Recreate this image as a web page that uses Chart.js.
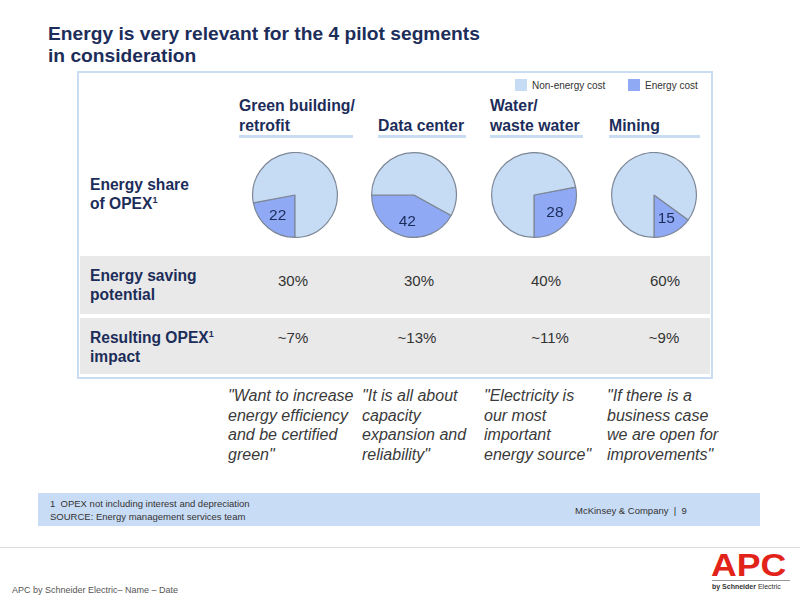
<!DOCTYPE html>
<html>
<head>
<meta charset="utf-8">
<script src="https://cdn.jsdelivr.net/npm/chart.js@4.4.1/dist/chart.umd.min.js"></script>
<style>
  html, body { margin: 0; padding: 0; background: #fff; }
  body { width: 800px; height: 600px; position: relative; overflow: hidden; font-family: "Liberation Sans", Arial, sans-serif; }
  .abs { position: absolute; }
  .title { left: 48px; top: 23px; font-size: 19.2px; font-weight: bold; color: #1c2d5a; line-height: 22px; }
  .box { left: 77px; top: 71px; width: 632px; height: 304px; border: 2px solid #cadcf2; }
  .legend { font-size: 10px; color: #333; display: flex; align-items: center; }
  .legend i { display: inline-block; width: 12px; height: 12px; margin-right: 5px; }
  .head { font-size: 15.8px; font-weight: bold; color: #1c2d5a; line-height: 20px; }
  .uline { height: 3px; background: #cadcf2; }
  .rowlab { left: 90px; font-size: 15.6px; font-weight: bold; color: #1c2d5a; line-height: 19px; }
  .rowlab sup { font-size: 9px; line-height: 0; vertical-align: 0; position: relative; top: -6px; }
  .band { left: 80px; width: 630px; background: #e9e9e9; }
  .val { font-size: 15px; color: #333; transform: translateX(-50%); white-space: nowrap; }
  .quote { font-size: 16px; font-style: italic; color: #3a3a3a; line-height: 19.5px; white-space: pre; }
  .pie { width: 88px; height: 86px; }
  .foot { left: 38px; top: 493px; width: 722px; height: 33px; background: #c9dcf5; }
  .small { font-size: 9.5px; color: #333; line-height: 13px; }
</style>
</head>
<body>

<div class="abs title">Energy is very relevant for the 4 pilot segments<br>in consideration</div>
<div class="abs box"></div>

<div class="abs legend" style="left:515px; top:79px;"><i style="background:#c6dcf5"></i>Non-energy cost</div>
<div class="abs legend" style="left:628px; top:79px;"><i style="background:#8fa9f5"></i>Energy cost</div>

<div id="heads"></div>

<div class="abs rowlab" style="top:175px;">Energy share<br>of OPEX<sup>1</sup></div>

<div class="abs band" style="top:256px; height:58px;"></div>
<div class="abs band" style="top:318px; height:56px;"></div>
<div class="abs rowlab" style="top:266px;">Energy saving<br>potential</div>
<div class="abs rowlab" style="top:328px;">Resulting OPEX<sup>1</sup><br>impact</div>

<div id="pies"></div>
<div id="cells"></div>

<div class="abs foot"></div>
<div class="abs small" style="left:50px; top:497px;">1&nbsp; OPEX not including interest and depreciation<br>SOURCE: Energy management services team</div>
<div class="abs small" style="left:575px; top:504px;">McKinsey &amp; Company&nbsp; |&nbsp; 9</div>

<div class="abs" style="left:0; top:547px; width:800px; height:1px; background:#dcdcdc;"></div>
<div class="abs" style="left:12px; top:585px; font-size:9px; color:#555;">APC by Schneider Electric– Name – Date</div>
<div class="abs" style="left:711px; top:548px; font-size:31px; font-weight:900; color:#e2231a; transform-origin:0 0; transform:scaleX(1.15);">APC</div>
<div class="abs" style="left:712px; top:580px; width:78px; height:1px; background:#999;"></div>
<div class="abs" style="left:712px; top:583px; font-size:7px; color:#333;"><b>by Schneider</b> Electric</div>

<script>
// Segments and values.
const segments = ['Green building/\nretrofit', 'Data center', 'Water/\nwaste water', 'Mining'];
const energyShare = [22, 42, 28, 15];
const savingPotential = ['30%', '30%', '40%', '60%'];
const opexImpact = ['~7%', '~13%', '~11%', '~9%'];
const quotes = [
  '"Want to increase\nenergy efficiency\nand be certified\ngreen"',
  '"It is all about\ncapacity\nexpansion and\nreliability"',
  '"Electricity is\nour most\nimportant\nenergy source"',
  '"If there is a\nbusiness case\nwe are open for\nimprovements"'
];
const sliceLabels = ['Energy cost', 'Non-energy cost'];

// Layout for each column.
const headLeft = [239, 378, 490, 609];
const headWidth = [114, 88, 93, 91];
const pieCenter = [295, 414, 534, 654];
const valCenter = [293, 419, 546, 665];
const impactCenter = [293, 417, 550, 664];
const quoteLeft = [228, 362, 484, 607];

const energyColor = '#8fa9f5';
const otherColor = '#c6dcf5';

// Where the energy slice starts, clockwise from 12 o'clock.
function pieRotation(i) {
  const sweep = energyShare[i] * 3.6;
  if (i === 0) return 180;
  if (i === 1) return 270 - sweep;
  return 180 - sweep;
}

let html = '';
segments.forEach(function (s, i) {
  const lines = s.split('\n');
  const top = lines.length === 2 ? 96 : 116;
  html += '<div class="abs head" style="left:' + headLeft[i] + 'px; top:' + top + 'px;">' + lines.join('<br>') + '</div>';
  html += '<div class="abs uline" style="left:' + headLeft[i] + 'px; top:135px; width:' + headWidth[i] + 'px;"></div>';
});
document.getElementById('heads').innerHTML = html;

html = '';
segments.forEach(function (s, i) {
  html += '<div class="abs val" style="left:' + valCenter[i] + 'px; top:272px;">' + savingPotential[i] + '</div>';
  html += '<div class="abs val" style="left:' + impactCenter[i] + 'px; top:329px;">' + opexImpact[i] + '</div>';
  html += '<div class="abs quote" style="left:' + quoteLeft[i] + 'px; top:386px;">' + quotes[i] + '</div>';
});
document.getElementById('cells').innerHTML = html;

// Draw the share number inside the energy slice.
const sliceValue = {
  id: 'sliceValue',
  afterDatasetsDraw(chart) {
    const arc = chart.getDatasetMeta(0).data[0];
    const mid = (arc.startAngle + arc.endAngle) / 2;
    const r = arc.outerRadius * 0.64;
    const ctx = chart.ctx;
    ctx.save();
    ctx.font = '15.5px "Liberation Sans", Arial, sans-serif';
    ctx.fillStyle = '#1c2d5a';
    ctx.textAlign = 'center';
    ctx.textBaseline = 'middle';
    ctx.fillText(chart.data.datasets[0].data[0], arc.x + Math.cos(mid) * r, arc.y + Math.sin(mid) * r);
    ctx.restore();
  }
};

const pieBox = document.getElementById('pies');
energyShare.forEach(function (share, i) {
  const wrap = document.createElement('div');
  wrap.className = 'abs pie';
  wrap.style.left = (pieCenter[i] - 44) + 'px';
  wrap.style.top = '152px';
  const canvas = document.createElement('canvas');
  canvas.width = 88;
  canvas.height = 86;
  wrap.appendChild(canvas);
  pieBox.appendChild(wrap);

  new Chart(canvas, {
    type: 'pie',
    data: {
      labels: sliceLabels,
      datasets: [{
        data: [share, 100 - share],
        backgroundColor: [energyColor, otherColor],
        borderColor: '#7d8796',
        borderWidth: 1.2
      }]
    },
    options: {
      responsive: false,
      animation: false,
      rotation: pieRotation(i),
      layout: { padding: 0 },
      plugins: { legend: { display: false }, tooltip: { enabled: false } }
    },
    plugins: [sliceValue]
  });
});
</script>
</body>
</html>
